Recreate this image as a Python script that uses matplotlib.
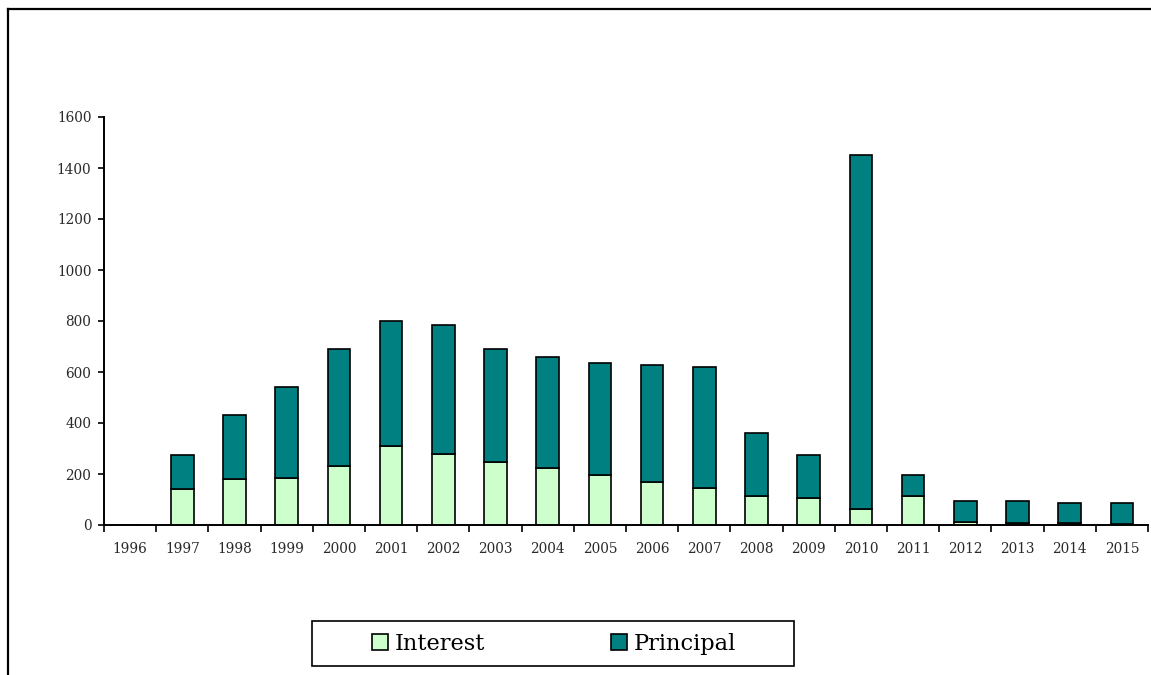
import matplotlib.pyplot as plt
import numpy as np
from matplotlib.lines import Line2D
from matplotlib.patches import Rectangle

years = [str(y) for y in range(1996, 2016)]
interest = [0, 140, 179, 185, 232, 311, 280, 248, 225, 195, 170, 146, 115, 107, 61, 115, 13, 6, 6, 2]
principal = [0, 133, 252, 356, 458, 489, 504, 441, 432, 440, 456, 472, 244, 167, 1389, 80, 80, 87, 79, 83]

W, H = 1151, 675
fig = plt.figure(figsize=(W / 100, H / 100), dpi=100)
ax = fig.add_axes([104 / W, 1 - 525 / H, (1148 - 104) / W, (525 - 117) / H])

x = np.arange(len(years))
edge = dict(edgecolor='black', linewidth=1.2, width=0.43)
ax.bar(x, interest, color='#CCFFCC', label='Interest', **edge)
ax.bar(x, principal, bottom=interest, color='#008080', label='Principal', **edge)

ax.set_xlim(-0.5, len(years) - 0.5)
ax.set_ylim(0, 1600)
ax.set_yticks(range(0, 1601, 200))

# year labels centred under bars, tick marks between categories
ax.set_xticks(x)
ax.set_xticklabels(years)
ax.set_xticks(np.arange(-0.5, len(years), 1), minor=True)
ax.tick_params(axis='x', which='major', length=0, pad=12)
ax.tick_params(axis='x', which='minor', length=5, width=1.2, direction='out')
ax.tick_params(axis='y', length=4, width=1.2, direction='out', pad=5)
for lab in ax.get_xticklabels() + ax.get_yticklabels():
    lab.set_family('DejaVu Serif')
    lab.set_fontsize(9.8)
    lab.set_color('#2a2a2a')

for s in ['top', 'right']:
    ax.spines[s].set_visible(False)
for s in ['left', 'bottom']:
    ax.spines[s].set_linewidth(1.4)

# outer frame lines (top and left)
fig.add_artist(Line2D([8 / W, 1], [1 - 9 / H, 1 - 9 / H], color='black', lw=1.6, transform=fig.transFigure))
fig.add_artist(Line2D([8 / W, 8 / W], [0, 1 - 9 / H], color='black', lw=1.6, transform=fig.transFigure))

# legend box
fig.add_artist(Rectangle((312 / W, 1 - 666 / H), (794 - 312) / W, 45 / H, fill=False,
                         edgecolor='black', lw=1.2, transform=fig.transFigure))
fig.legend(loc='center', bbox_to_anchor=(554 / W, 1 - 644 / H), ncol=2, frameon=False,
           prop={'family': 'DejaVu Serif', 'size': 16.2}, handlelength=0.72, handleheight=0.72,
           handletextpad=0.3, columnspacing=5.6, borderpad=0)

fig.savefig('out.png', dpi=100)
